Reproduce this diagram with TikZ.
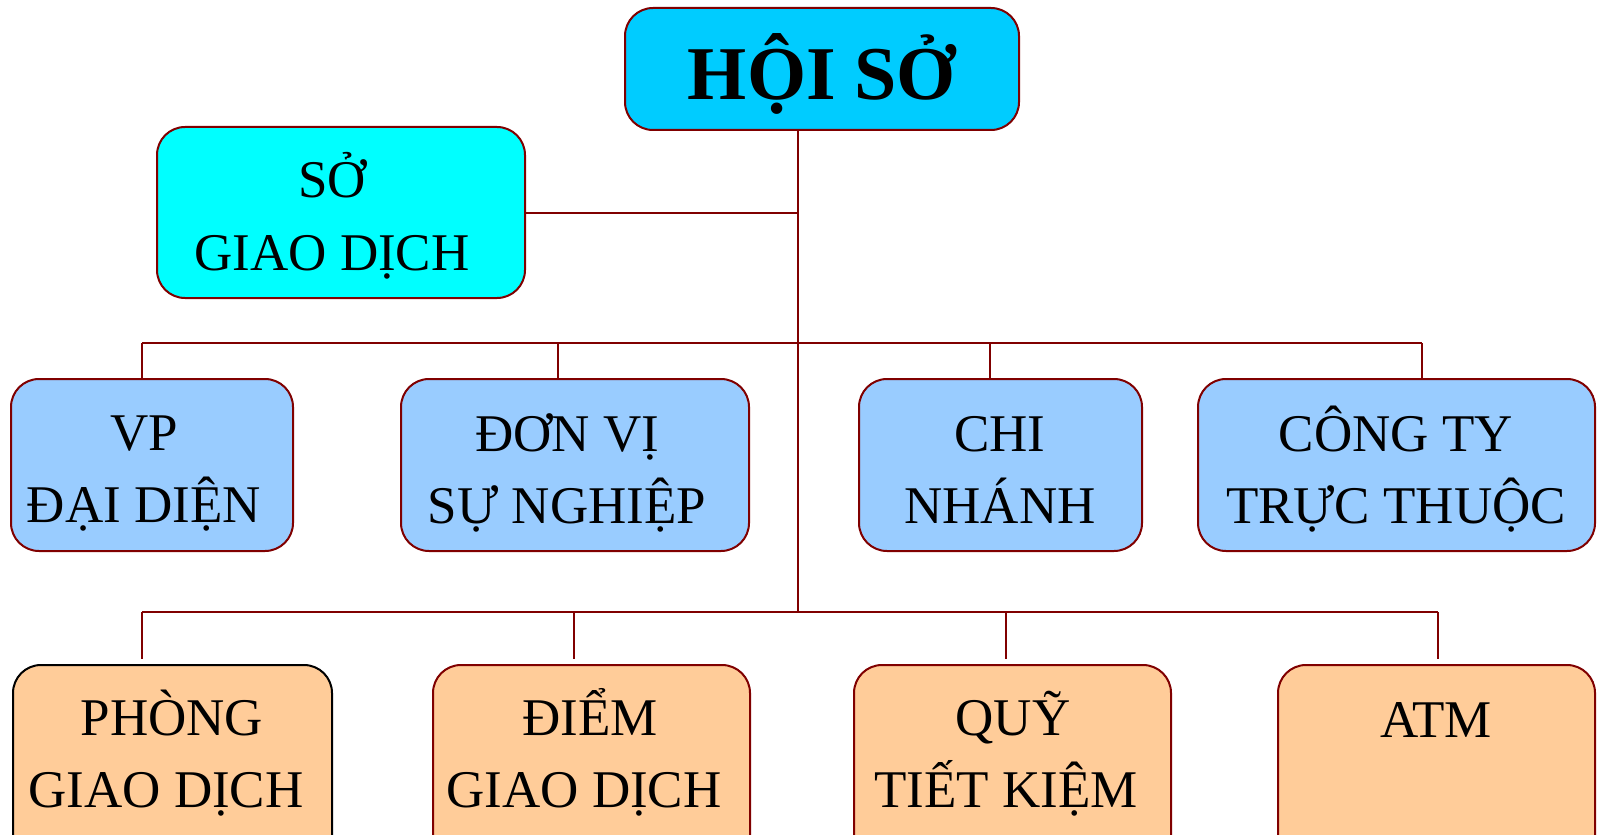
\documentclass[tikz,border=0pt]{standalone}
\usepackage{fontspec}
\setmainfont{Liberation Serif}
\definecolor{darkred}{HTML}{800000}
\definecolor{hoisofill}{HTML}{00CCFF}
\definecolor{sgdfill}{HTML}{00FFFF}
\definecolor{bluefill}{HTML}{99CCFF}
\definecolor{orangefill}{HTML}{FFCC99}

\begin{document}
\begin{tikzpicture}[x=0.5pt, y=-0.5pt,
        box/.style={draw=darkred, line width=1pt, rounded corners=14pt, inner sep=0pt},
        rowbox/.style={box, minimum height=86pt},
        lowbox/.style={box, fill=orangefill, minimum width=158.5pt, minimum height=107.5pt},
        txt/.style={align=center, anchor=base, inner sep=0pt, font=\fontsize{26.5}{36}\selectfont},
        link/.style={draw=darkred, line width=1pt}]
        \useasboundingbox (0,0) rectangle (1598,834);
        \clip (0,0) rectangle (1598,834);

        \node[box, fill=hoisofill, minimum width=197pt, minimum height=61pt] (hoiso) at (822,69) {};
        \node[box, fill=sgdfill, minimum width=184pt, minimum height=85.5pt] (sgd) at (341,212.5) {};
        \node[rowbox, fill=bluefill, minimum width=141pt] (vp) at (152,465) {};
        \node[rowbox, fill=bluefill, minimum width=174pt] (dvsn) at (575,465) {};
        \node[rowbox, fill=bluefill, minimum width=141.5pt] (cn) at (1000.5,465) {};
        \node[rowbox, fill=bluefill, minimum width=198.5pt] (ct) at (1396.5,465) {};
        \node[lowbox, draw=black, minimum width=159.5pt] (pgd) at (172.5,772.5) {};
        \node[lowbox] (dgd) at (591.5,772.5) {};
        \node[lowbox] (qtk) at (1012.5,772.5) {};
        \node[lowbox] (atm) at (1436.5,772.5) {};

        % base = baseline of the last line
        \node[txt, font=\bfseries\fontsize{38}{40}\selectfont] (hoiso-t) at (822,100) {HỘI SỞ};
        \node[txt] (sgd-t) at (332,270) {SỞ\\GIAO DỊCH};
        \node[txt] (vp-t) at (144,522) {VP\\ĐẠI DIỆN};
        \node[txt] (dvsn-t) at (567,523) {ĐƠN VỊ\\SỰ NGHIỆP};
        \node[txt] (cn-t) at (1000,523) {CHI\\NHÁNH};
        \node[txt] (ct-t) at (1396,523) {CÔNG TY\\TRỰC THUỘC};
        \node[txt] (pgd-t) at (172,807) {PHÒNG\\GIAO DỊCH\kern6pt};
        \node[txt] (dgd-t) at (590,807) {ĐIỂM\\GIAO DỊCH\kern6pt};
        \node[txt] (qtk-t) at (1013,807) {QUỸ\\TIẾT KIỆM\kern7pt};
        \node[txt] (atm-t) at (1436,737) {ATM};

        % trunk and bars
        \coordinate (bar1) at (798,343);
        \coordinate (bar2) at (798,612);
        \draw[link] (hoiso.south -| bar1) -- (bar2);
        \draw[link] (sgd.east) -- (sgd.east -| bar1);
        \draw[link] (142,343) -- (1422,343);
        \draw[link] (142,612) -- (1438,612);
        \foreach \n/\x in {vp/142, dvsn/558, cn/990, ct/1422}
          \draw[link] (\x,343) -- (\x,0 |- \n.north);
        \foreach \n/\x in {pgd/142, dgd/574, qtk/1006, atm/1438}
          \draw[link] (\x,612) -- ([yshift=2.5pt]\n.north -| \x,0);
\end{tikzpicture}
\end{document}
